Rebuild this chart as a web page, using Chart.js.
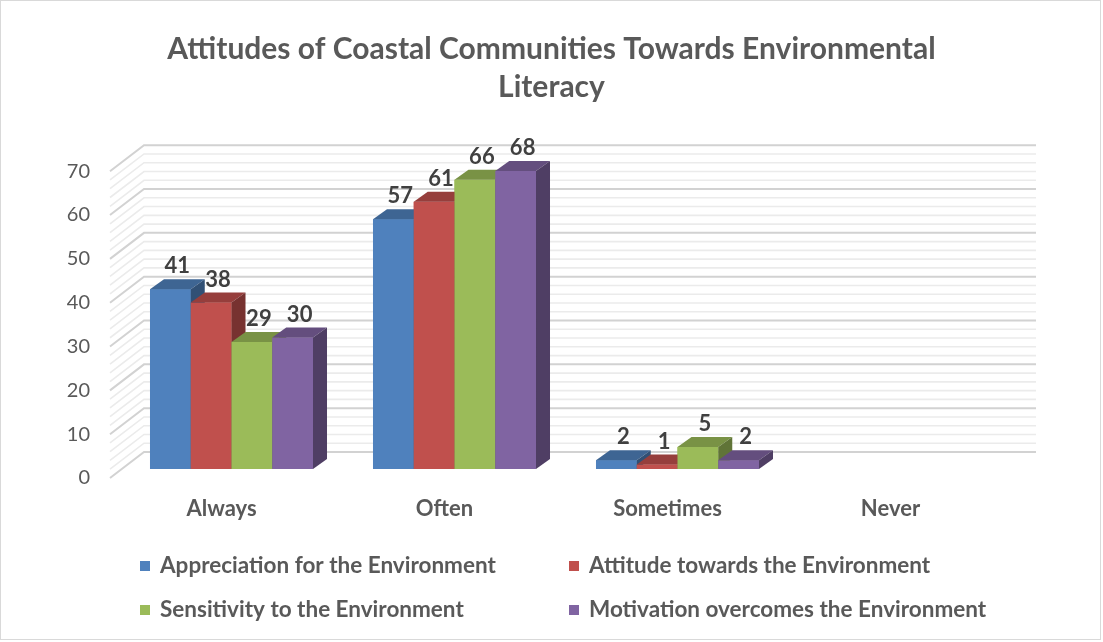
<!DOCTYPE html>
<html>
<head>
<meta charset="utf-8">
<script src="https://cdn.jsdelivr.net/npm/chart.js@4"></script>
<style>
  html, body { margin: 0; padding: 0; background: #fff; }
</style>
</head>
<body>
<canvas id="chart" width="1103" height="642"></canvas>
<script>
// ---- data ----
const categories = ["Always", "Often", "Sometimes", "Never"];
const seriesNames = [
    "Appreciation for the Environment",
    "Attitude towards the Environment",
    "Sensitivity to the Environment",
    "Motivation overcomes the Environment"
];
const appreciation = [41, 57, 2, null];
const attitude = [38, 61, 1, null];
const sensitivity = [29, 66, 5, null];
const motivation = [30, 68, 2, null];
const yMin = 0, yMax = 70, yStep = 10, yMinorStep = 2;

const colors = ["#4f81bd", "#c0504d", "#9bbb59", "#8064a2"];
const textColor = "#595959";

// ---- 3d look ----
const WALL_DX = 34, WALL_DY = -26;     // side wall depth
const SHIFT_X = 10, SHIFT_Y = -9;      // bars sit a bit back from front plane
const BAR_DX = 14, BAR_DY = -10;       // bar depth

function shade(hex, f) {
    const n = parseInt(hex.slice(1), 16);
    const r = Math.round(((n >> 16) & 255) * f);
    const g = Math.round(((n >> 8) & 255) * f);
    const b = Math.round((n & 255) * f);
    return `rgb(${r},${g},${b})`;
}

const threeD = {
    id: "threeD",
    beforeDatasetsDraw(chart) {
        const { ctx, chartArea, scales: { y } } = chart;
        ctx.save();
        for (let v = yMin; v <= yMax; v += yMinorStep) {
            const py = y.getPixelForValue(v);
            const major = v % yStep === 0;
            ctx.strokeStyle = major ? "#d2d2d2" : "#ebebeb";
            ctx.lineWidth = major ? 2 : 1.6;
            ctx.beginPath();
            ctx.moveTo(chartArea.left, py);
            ctx.lineTo(chartArea.left + WALL_DX, py + WALL_DY);
            ctx.lineTo(chartArea.right + WALL_DX, py + WALL_DY);
            ctx.stroke();
        }
        ctx.restore();
        ctx.save();
        ctx.translate(SHIFT_X, SHIFT_Y);
    },
    afterDatasetsDraw(chart) {
        const ctx = chart.ctx;
        const ds = chart.data.datasets;
        categories.forEach((c, ci) => {
            ds.forEach((d, di) => {
                if (d.data[ci] == null) return;
                const el = chart.getDatasetMeta(di).data[ci];
                el.draw(ctx);
                const { x, y, base, width } = el.getProps(["x", "y", "base", "width"], true);
                const l = x - width / 2, r = x + width / 2;
                // top face
                ctx.fillStyle = shade(colors[di], 0.78);
                ctx.beginPath();
                ctx.moveTo(l, y);
                ctx.lineTo(r, y);
                ctx.lineTo(r + BAR_DX, y + BAR_DY);
                ctx.lineTo(l + BAR_DX, y + BAR_DY);
                ctx.closePath();
                ctx.fill();
                // side face
                ctx.fillStyle = shade(colors[di], 0.62);
                ctx.beginPath();
                ctx.moveTo(r, y);
                ctx.lineTo(r + BAR_DX, y + BAR_DY);
                ctx.lineTo(r + BAR_DX, base + BAR_DY);
                ctx.lineTo(r, base);
                ctx.closePath();
                ctx.fill();
            });
        });
        // data labels
        ctx.fillStyle = "#404040";
        ctx.font = "bold 22px Lato";
        ctx.textAlign = "center";
        ctx.textBaseline = "bottom";
        ds.forEach((d, di) => {
            chart.getDatasetMeta(di).data.forEach((el, ci) => {
                if (d.data[ci] == null) return;
                ctx.fillText(String(d.data[ci]), el.x + BAR_DX / 2, el.y + BAR_DY - 2);
            });
        });
        ctx.restore();
    },
    afterDraw(chart) {
        const ctx = chart.ctx;
        // legend, two columns
        const colX = [140, 569], rowY = [566, 610];
        ctx.save();
        ctx.font = "bold 22.5px Lato";
        ctx.textAlign = "left";
        ctx.textBaseline = "middle";
        chart.data.datasets.forEach((d, i) => {
            const x = colX[i % 2], y = rowY[Math.floor(i / 2)];
            ctx.fillStyle = d.backgroundColor;
            ctx.fillRect(x, y - 5, 10, 10);
            ctx.fillStyle = textColor;
            ctx.fillText(d.label, x + 20, y);
        });
        // chart border
        ctx.strokeStyle = "#d9d9d9";
        ctx.lineWidth = 1;
        ctx.strokeRect(0.5, 0.5, chart.width - 3, chart.height - 3);
        ctx.restore();
    }
};

Chart.defaults.font.family = "Lato";

const ctx = document.getElementById("chart").getContext("2d");
new Chart(ctx, {
    type: "bar",
    data: {
        labels: categories,
        datasets: [appreciation, attitude, sensitivity, motivation].map((vals, i) => ({
            label: seriesNames[i],
            data: vals,
            backgroundColor: colors[i],
            borderWidth: 0,
            categoryPercentage: 0.731,
            barPercentage: 1
        }))
    },
    options: {
        responsive: false,
        animation: false,
        layout: { padding: 0 },
        plugins: {
            legend: { display: false },
            tooltip: { enabled: false },
            title: {
                display: true,
                text: ["Attitudes of Coastal Communities Towards Environmental", "Literacy"],
                color: textColor,
                font: { size: 30, weight: "bold", lineHeight: 1.27 },
                padding: { top: 30, bottom: 65 }
            }
        },
        scales: {
            x: {
                grid: { display: false, drawTicks: false },
                border: { display: false },
                ticks: { color: textColor, font: { size: 22, weight: "bold" }, padding: 18 },
                afterFit(s) { s.height = 164; }
            },
            y: {
                min: yMin,
                max: yMax,
                grid: { display: false, drawTicks: false },
                border: { display: false },
                ticks: { stepSize: yStep, color: textColor, font: { size: 20 }, padding: 20 },
                afterFit(s) { s.width = 110; }
            },
            y2: {
                type: "linear",
                position: "right",
                grid: { display: false, drawTicks: false },
                border: { display: false },
                ticks: { display: false },
                afterFit(s) { s.width = 101; }
            }
        }
    },
    plugins: [threeD]
});
</script>
</body>
</html>
